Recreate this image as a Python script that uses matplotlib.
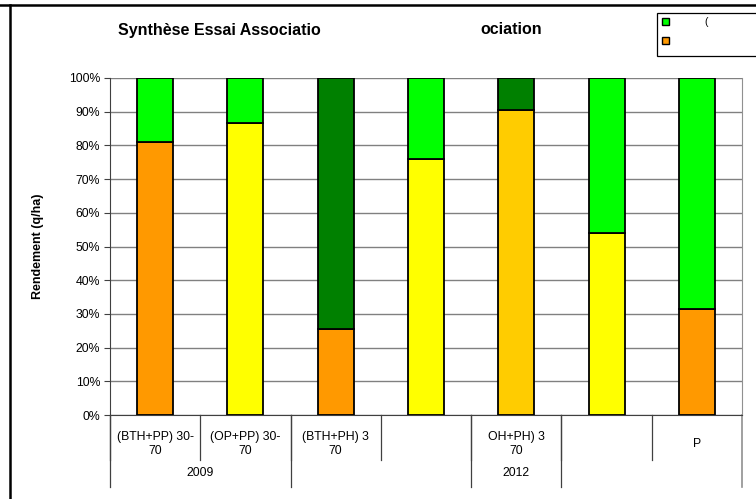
import matplotlib
matplotlib.use("Agg")
import matplotlib.pyplot as plt
from matplotlib.lines import Line2D
from matplotlib.patches import Rectangle, Patch
from matplotlib.ticker import PercentFormatter

plt.rcParams['font.family'] = ['Liberation Sans', 'DejaVu Sans']

# share of each crop in the association yield (%)
categories = ["(BTH+PP) 30-\n70", "(OP+PP) 30-\n70", "(BTH+PH) 3\n70", "",
              "OH+PH) 3\n70", "", "P"]
bottom_pct = [81, 86.5, 25.5, 76, 90.5, 54, 31.5]
bottom_colors = ["#FF9900", "#FFFF00", "#FF9900", "#FFFF00", "#FFCC00", "#FFFF00", "#FF9900"]
top_colors = ["#00FF00", "#00FF00", "#008000", "#00FF00", "#008000", "#00FF00", "#00FF00"]
# (label, first category, last category)
year_groups = [("2009", 0, 1), ("", 2, 3), ("2012", 4, 4), ("", 5, 6)]
legend_labels = ["(", " "]
legend_colors = ["#00FF00", "#FF9900"]

W, H = 756, 499
FS = 8.8
fig = plt.figure(figsize=(W / 100, H / 100), dpi=100)
ax = fig.add_axes([110 / W, 1 - 415 / H, (742 - 110) / W, (415 - 78) / H])

x = range(len(categories))
top_pct = [100 - b for b in bottom_pct]
ax.bar(x, bottom_pct, width=0.4, color=bottom_colors, edgecolor="black", linewidth=1.3, zorder=3)
ax.bar(x, top_pct, width=0.4, bottom=bottom_pct, color=top_colors, edgecolor="black",
       linewidth=1.3, zorder=3)

ax.set_xlim(-0.5, len(categories) - 0.5)
ax.set_ylim(0, 100)
ax.set_yticks(range(0, 101, 10))
ax.yaxis.set_major_formatter(PercentFormatter(decimals=0))
ax.tick_params(axis="y", labelsize=FS, length=4, color="#404040", pad=3)
ax.set_xticks([])
ax.grid(axis="y", color="#808080", linewidth=1, zorder=0)
ax.set_ylabel("Rendement (q/ha)", fontsize=9, fontweight="bold", labelpad=18)

ax.spines["top"].set_visible(False)
ax.spines["left"].set_color("#404040")
ax.spines["bottom"].set_color("#404040")
ax.spines["right"].set_color("#909090")

# two-level category axis
tr = ax.get_xaxis_transform()
for i, lab in enumerate(categories):
    ax.text(i, -0.087, lab, transform=tr, ha="center", va="center", fontsize=FS,
            linespacing=1.2)
    ax.plot([i - 0.5, i - 0.5], [0, -0.134], transform=tr, color="#404040",
            linewidth=0.9, clip_on=False)
for lab, a, b in year_groups:
    ax.text((a + b) / 2, -0.172, lab, transform=tr, ha="center", va="center", fontsize=FS)
    ax.plot([a - 0.5, a - 0.5], [0, -0.214], transform=tr, color="#404040",
            linewidth=0.9, clip_on=False)
last = len(categories) - 0.5
ax.plot([last, last], [0, -0.214], transform=tr, color="#909090", linewidth=1.2, clip_on=False)

# title
fig.text(118 / W, 1 - 30 / H, "Synthèse Essai Associatio", fontsize=11.5, fontweight="bold",
         ha="left", va="center")
fig.text(480 / W, 1 - 30 / H, "ociation", fontsize=11.5, fontweight="bold",
         ha="left", va="center")

# legend
fig.add_artist(Rectangle((657 / W, 1 - 56 / H), 120 / W, 43 / H, transform=fig.transFigure,
                         facecolor="white", edgecolor="black", linewidth=0.9))
handles = [Patch(facecolor=c, edgecolor="black", linewidth=1) for c in legend_colors]
fig.legend(handles, legend_labels, loc="upper left", bbox_to_anchor=(660 / W, 1 - 15 / H),
           frameon=False, fontsize=7.5, handlelength=0.7, handleheight=0.7,
           handletextpad=3.4, labelspacing=0.85, borderpad=0.2, borderaxespad=0)

# outer frame
fig.add_artist(Line2D([0, 1], [1 - 5 / H, 1 - 5 / H], transform=fig.transFigure,
                      color="black", linewidth=1.8))
fig.add_artist(Line2D([9.5 / W, 9.5 / W], [0, 1 - 5 / H], transform=fig.transFigure,
                      color="black", linewidth=1.8))

fig.savefig("out.png", dpi=100)
